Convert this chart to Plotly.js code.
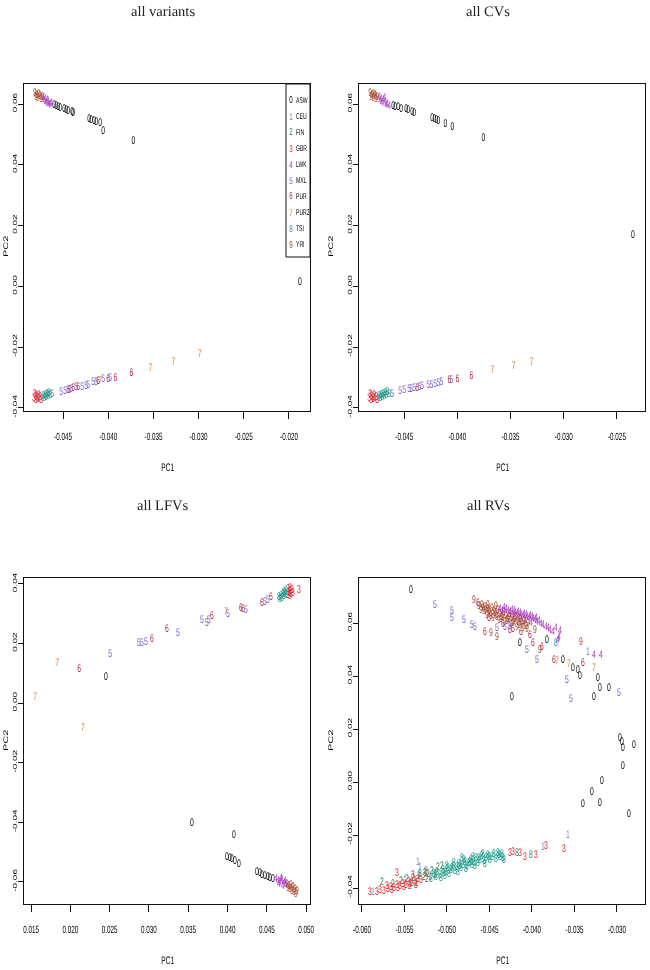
<!DOCTYPE html>
<html><head><meta charset="utf-8">
<script src="https://cdn.plot.ly/plotly-3.0.1.min.js"></script>
<style>html,body{margin:0;padding:0;background:#fff}
#chart .main-svg{will-change:transform;}
#chart text{text-rendering:geometricPrecision;}
</style>
</head><body><div id="chart" style="width:650px;height:970px"></div>
<script>
// ---------------- data ----------------
const POP_CODES = ['ASW','CEU','FIN','GBR','LWK','MXL','PUR','PUR2','TSI','YRI'];
const PANEL_TITLES = ['all variants','all CVs','all LFVs','all RVs'];

// all variants
const VAR_PC1 = [-0.04811,-0.04789,-0.04767,-0.04800,-0.04778,-0.04756,-0.04744,-0.04733,
 -0.04722,-0.04700,-0.04711,-0.04678,-0.04689,-0.04667,-0.04644,-0.04656,-0.04633,
 -0.04600,-0.04578,-0.04556,-0.04533,-0.04489,-0.04467,-0.04444,-0.04400,-0.04389,-0.04211,-0.04189,-0.04156,-0.04133,-0.04089,-0.04056,-0.03722,-0.01878,
 -0.04789,-0.04767,-0.04822,-0.04800,-0.04778,-0.04767,-0.04756,-0.04800,-0.04744,-0.04811,
 -0.04722,-0.04700,-0.04711,-0.04678,-0.04689,-0.04656,-0.04667,-0.04644,
 -0.04622,-0.04522,-0.04478,-0.04444,-0.04433,-0.04411,-0.04389,-0.04356,-0.04333,-0.04289,-0.04244,-0.04222,-0.04167,-0.04133,-0.04111,-0.04089,-0.04056,-0.04000,-0.03978,-0.03922,-0.03744,-0.03533,-0.03278,-0.02989];
const VAR_PC2 = [0.06361,0.06295,0.06328,0.06230,0.06197,0.06262,0.06164,0.06230,
 0.06230,0.06164,0.06098,0.06131,0.06033,0.06066,0.06000,0.05967,0.06033,
 0.05967,0.05934,0.05902,0.05869,0.05836,0.05803,0.05770,0.05738,0.05705,0.05508,0.05475,0.05442,0.05410,0.05377,0.05114,0.04786,0.00129,
 -0.03643,-0.03676,-0.03676,-0.03610,-0.03709,-0.03578,-0.03643,-0.03742,-0.03742,-0.03545,
 -0.03610,-0.03578,-0.03676,-0.03545,-0.03643,-0.03512,-0.03610,-0.03578,
 -0.03545,-0.03479,-0.03446,-0.03414,-0.03414,-0.03381,-0.03348,-0.03315,-0.03315,-0.03315,-0.03282,-0.03250,-0.03151,-0.03151,-0.03118,-0.03118,-0.03053,-0.03053,-0.03020,-0.03020,-0.02856,-0.02692,-0.02495,-0.02233];
const VAR_POP = [9,9,9,9,9,9,9,9, 4,4,4,4,4,4,4,4,4,
 0,0,0,0,0,0,0,0,0,0,0,0,0,0,0,0,0,
 2,1,3,3,3,3,3,3,3,3, 8,8,8,8,8,8,8,8,
 5,5,5,5,6,5,6,5,6,5,5,5,5,5,6,7,5,6,5,6,6,7,7,7];

// all CVs
const CV_PC1 = [-0.04821,-0.04802,-0.04783,-0.04811,-0.04792,-0.04774,-0.04764,-0.04755,
 -0.04736,-0.04717,-0.04726,-0.04698,-0.04708,-0.04679,-0.04660,-0.04670,-0.04642,-0.04689,
 -0.04604,-0.04585,-0.04557,-0.04528,-0.04481,-0.04462,-0.04425,-0.04406,-0.04236,-0.04217,-0.04198,-0.04179,-0.04113,-0.04047,-0.03755,-0.02349,
 -0.04792,-0.04774,-0.04830,-0.04811,-0.04792,-0.04783,-0.04764,-0.04811,-0.04755,-0.04821,
 -0.04736,-0.04717,-0.04726,-0.04698,-0.04708,-0.04679,-0.04689,-0.04660,-0.04670,-0.04642,
 -0.04613,-0.04538,-0.04500,-0.04453,-0.04434,-0.04406,-0.04377,-0.04358,-0.04330,-0.04274,-0.04245,-0.04208,-0.04179,-0.04151,-0.04075,-0.04057,-0.04000,-0.03868,-0.03670,-0.03472,-0.03302];
const CV_PC2 = [0.06361,0.06295,0.06328,0.06230,0.06197,0.06262,0.06164,0.06230,
 0.06230,0.06164,0.06098,0.06131,0.06033,0.06066,0.06000,0.05967,0.05934,0.06197,
 0.05934,0.05902,0.05902,0.05836,0.05836,0.05803,0.05738,0.05705,0.05541,0.05508,0.05475,0.05442,0.05344,0.05246,0.04885,0.01670,
 -0.03643,-0.03676,-0.03676,-0.03610,-0.03709,-0.03578,-0.03643,-0.03742,-0.03742,-0.03545,
 -0.03610,-0.03578,-0.03676,-0.03545,-0.03643,-0.03512,-0.03610,-0.03479,-0.03578,-0.03545,
 -0.03545,-0.03446,-0.03414,-0.03381,-0.03381,-0.03348,-0.03348,-0.03315,-0.03282,-0.03250,-0.03250,-0.03217,-0.03184,-0.03151,-0.03086,-0.03086,-0.03053,-0.02954,-0.02758,-0.02626,-0.02495];
const CV_POP = [9,9,9,9,9,9,9,9, 4,4,4,4,4,4,4,4,4,4,
 0,0,0,0,0,0,0,0,0,0,0,0,0,0,0,0,
 2,1,3,3,3,3,3,3,3,3, 8,8,8,8,8,8,8,8,8,8,
 5,5,5,5,5,5,6,5,5,5,5,5,5,5,6,5,6,6,7,7,7];

// all LFVs
const LFV_PC1 = [0.02454,0.03548,0.04082,0.03993,0.04031,0.04057,0.04095,0.04146,0.04375,0.04413,0.04438,0.04476,0.04515,0.04540,0.04578,
 0.04616,0.04642,0.04667,0.04693,0.04718,0.04655,0.04705,0.04744,0.04680,0.04731,
 0.04756,0.04782,0.04807,0.04833,0.04858,0.04795,0.04820,0.04846,0.04884,0.04871,0.04769,
 0.04795,0.04782,0.04769,0.04795,0.04820,0.04782,0.04807,0.04833,0.04769,0.04795,0.04909,
 0.04655,0.04680,0.04705,0.04731,0.04667,0.04693,0.04718,0.04744,0.04744,0.04718,
 0.04438,0.04476,0.04515,0.04553,0.04171,0.04197,0.04235,0.03980,0.04006,0.03675,0.03739,0.03764,0.03802,0.03370,0.03230,0.02874,0.02912,0.02963,0.03039,0.02505,0.01831,0.02111,0.01551,0.02161];
const LFV_PC2 = [0.00879,-0.04021,-0.04424,-0.05162,-0.05195,-0.05229,-0.05296,-0.05397,-0.05666,-0.05699,-0.05766,-0.05800,-0.05833,-0.05867,-0.05900,
 -0.05900,-0.05967,-0.06001,-0.05934,-0.06034,-0.06068,-0.06135,-0.06101,-0.05867,-0.05967,
 -0.06068,-0.06135,-0.06101,-0.06169,-0.06236,-0.06236,-0.06303,-0.06336,-0.06303,-0.06403,-0.06202,
 0.03765,0.03698,0.03832,0.03866,0.03799,0.03732,0.03664,0.03698,0.03631,0.03597,0.03799,
 0.03564,0.03597,0.03664,0.03698,0.03497,0.03530,0.03597,0.03631,0.03765,0.03732,
 0.03362,0.03396,0.03463,0.03564,0.03195,0.03161,0.03127,0.03060,0.02993,0.02792,0.02691,0.02792,0.02926,0.02356,0.02490,0.02020,0.02020,0.02053,0.02154,0.01651,0.01349,0.01147,0.00208,-0.00833];
const LFV_POP = [0,0,0,0,0,0,0,0,0,0,0,0,0,0,0,
 4,4,4,4,4,4,4,4,4,4,
 9,9,9,9,9,9,9,9,9,9,9,
 2,1,3,3,3,3,3,3,3,3,3,
 8,8,8,8,8,8,8,8,8,8,
 6,5,5,6,6,6,5,7,5,5,5,5,6,5,6,5,5,5,6,5,7,6,7,7];

// all RVs
const RV_PC1 = [
 -0.05424,-0.05141,-0.04941,-0.04941,-0.04800,-0.04706,-0.04671,-0.04682,-0.04635,
 -0.04588,-0.04553,-0.04565,-0.04518,-0.04494,-0.04471,-0.04447,-0.04424,-0.04400,-0.04376,-0.04353,-0.04329,-0.04306,-0.04282,-0.04259,-0.04235,-0.04212,-0.04188,-0.04165,-0.04141,-0.04118,-0.04094,-0.04071,-0.04047,
 -0.04529,-0.04459,-0.04388,-0.04318,-0.04247,-0.04176,-0.04518,-0.04424,-0.04482,-0.04412,-0.03965,-0.03906,-0.03424,
 -0.04576,-0.04541,-0.04506,-0.04482,-0.04435,-0.04412,-0.04365,-0.04341,-0.04294,-0.04271,-0.04224,-0.04200,-0.04153,-0.04129,-0.04106,-0.04059,-0.04624,-0.04600,
 -0.04506,-0.04341,-0.04224,-0.04129,-0.04553,-0.04024,-0.03988,-0.03882,-0.03741,-0.03400,-0.04259,
 -0.04376,-0.04329,-0.04282,-0.04235,-0.04200,-0.04165,-0.04129,-0.04094,-0.04059,-0.04024,-0.03988,-0.03953,-0.03941,-0.03894,-0.03835,-0.03788,-0.03682,-0.03671,-0.04224,-0.04153,-0.04082,-0.04012,-0.03271,-0.03188,-0.03694,
 -0.04353,-0.04306,-0.04259,-0.04212,-0.04176,-0.04141,-0.04106,-0.04071,-0.04035,-0.04000,-0.03965,-0.03918,-0.03871,-0.03812,-0.03753,-0.03718,
 -0.04412,-0.04318,-0.04259,-0.04059,-0.03941,-0.03588,-0.03541,-0.02976,
 -0.04141,-0.03824,-0.03635,-0.03518,-0.03459,-0.03435,-0.03224,-0.03200,-0.03094,-0.03271,-0.04235,
 -0.02965,-0.02941,-0.02929,-0.02800,-0.02929,-0.03176,-0.03294,-0.03400,-0.03200,-0.02859,
 -0.03706,-0.03565,-0.03271,-0.03341,-0.03718,
 -0.05765,-0.05635,-0.05541,-0.05471,-0.05400,-0.05329,-0.05271,-0.05224,-0.05176,-0.05106,-0.05059,-0.05141,-0.05235,-0.05365,-0.05435,
 -0.05871,-0.05341,-0.05318,-0.05494,-0.05200,-0.03871,-0.03576,
 -0.05188,-0.05153,-0.05118,-0.05082,-0.05047,-0.05012,-0.04988,-0.04953,-0.04929,-0.04906,-0.04882,-0.04859,-0.04835,-0.04812,-0.04788,-0.04765,-0.04741,-0.04718,-0.04706,-0.04682,-0.04659,-0.04635,-0.04612,-0.04588,-0.04565,-0.04541,-0.04518,-0.04494,-0.04471,-0.04447,-0.04424,-0.04400,-0.04376,-0.04353,-0.04329,
 -0.04976,-0.04871,-0.04776,-0.04671,-0.04553,-0.05024,-0.05071,-0.04012,-0.04176,-0.04824,-0.05318,-0.05247,
 -0.05129,-0.05035,-0.04941,-0.04847,-0.04729,-0.04624,-0.04506,-0.04388,-0.04341,-0.05000,-0.04918,-0.04800,-0.04694,-0.04576,
 -0.05906,-0.05824,-0.05741,-0.05694,-0.05659,-0.05624,-0.05588,-0.05553,-0.05518,-0.05482,-0.05447,-0.05412,-0.05376,-0.05341,-0.05306,-0.05588,-0.05400,-0.05259,
 -0.05788,-0.05706,-0.05647,-0.05576,-0.05506,-0.05435,-0.05365,
 -0.04259,-0.04224,-0.04141,-0.04082,-0.03953,-0.03835,-0.03624];
const RV_PC2 = [
 0.07245,0.06679,0.06453,0.06189,0.06113,0.05925,0.05849,0.06868,0.06755,
 0.06679,0.06604,0.06453,0.06528,0.06377,0.06566,0.06453,0.06302,0.06491,0.06340,0.06226,0.06415,0.06264,0.06151,0.06340,0.06189,0.06075,0.06226,0.06038,0.06151,0.05962,0.06075,0.05887,0.06000,
 0.06302,0.06189,0.06113,0.06038,0.05962,0.05849,0.06679,0.06642,0.05623,0.05472,0.05736,0.04981,0.05283,
 0.06566,0.06491,0.06453,0.06264,0.06377,0.06226,0.06151,0.06302,0.06075,0.06226,0.06000,0.06151,0.05925,0.06038,0.05811,0.05774,0.06642,0.06491,
 0.06189,0.05962,0.05774,0.05660,0.05660,0.05547,0.05245,0.05094,0.04604,0.04491,0.05736,
 0.06528,0.06566,0.06453,0.06491,0.06377,0.06415,0.06302,0.06340,0.06226,0.06264,0.06151,0.06189,0.06038,0.05962,0.05849,0.05736,0.05472,0.05698,0.06264,0.06151,0.06075,0.06000,0.04792,0.04792,0.05358,
 0.06453,0.06528,0.06415,0.06453,0.06340,0.06377,0.06264,0.06302,0.06189,0.06226,0.06113,0.06075,0.05925,0.05811,0.05660,0.05811,
 0.05811,0.05849,0.05887,0.04981,0.04604,0.03849,0.03132,0.03358,
 0.05245,0.05358,0.04604,0.04302,0.04226,0.04000,0.03925,0.03547,0.03547,0.03208,0.03208,
 0.01660,0.01509,0.01283,0.01396,0.00604,0.00038,-0.00377,-0.00830,-0.00792,-0.01208,
 0.04566,0.04453,0.04302,0.04906,0.05245,
 -0.03774,-0.03849,-0.03736,-0.03660,-0.03623,-0.03547,-0.03585,-0.03472,-0.03358,-0.03208,-0.03170,-0.03509,-0.03660,-0.03811,-0.03925,
 -0.04151,-0.03019,-0.03208,-0.03698,-0.03585,-0.02453,-0.02000,
 -0.03660,-0.03472,-0.03396,-0.03509,-0.03321,-0.03396,-0.03245,-0.03321,-0.03170,-0.03358,-0.03208,-0.03094,-0.03245,-0.03132,-0.03019,-0.03170,-0.03057,-0.02943,-0.03132,-0.03019,-0.02868,-0.03057,-0.02943,-0.02792,-0.02981,-0.02868,-0.02755,-0.02943,-0.02830,-0.02717,-0.02906,-0.02679,-0.02830,-0.02717,-0.02943,
 -0.03472,-0.03396,-0.03283,-0.03170,-0.03094,-0.03547,-0.03623,-0.02755,-0.02679,-0.02868,-0.03472,-0.03358,
 -0.03585,-0.03434,-0.03245,-0.03170,-0.03019,-0.02868,-0.02830,-0.02755,-0.02868,-0.03170,-0.03057,-0.02943,-0.02830,-0.02717,
 -0.04151,-0.04151,-0.04113,-0.04038,-0.03962,-0.04000,-0.03887,-0.03925,-0.03849,-0.03887,-0.03774,-0.03811,-0.03736,-0.03660,-0.03698,-0.03434,-0.03509,-0.03434,
 -0.04075,-0.03925,-0.04075,-0.04000,-0.03962,-0.03849,-0.03887,
 -0.02679,-0.02642,-0.02679,-0.02830,-0.02755,-0.02415,-0.02528];
const RV_POP = [
 0,5,5,5,5,5,5,9,6,
 9,9,9,9,9,9,9,9,9,9,9,9,9,9,9,9,9,9,9,9,9,9,9,9,
 9,9,9,9,9,9,9,9,9,9,9,9,9,
 9,9,9,9,9,9,9,9,9,9,9,9,9,9,9,9,9,9,
 6,6,6,6,6,6,6,6,6,6,6,
 4,4,4,4,4,4,4,4,4,4,4,4,4,4,4,4,4,4,4,4,4,4,4,4,4,
 4,4,4,4,4,4,4,4,4,4,4,4,4,4,4,4,
 5,5,5,5,5,5,5,5,
 0,0,0,0,0,0,0,0,0,0,0,
 0,0,0,0,0,0,0,0,0,0,
 7,7,7,1,8,
 2,2,2,2,2,2,2,2,2,2,2,2,2,2,2,
 1,1,1,1,1,1,1,
 8,8,8,8,8,8,8,8,8,8,8,8,8,8,8,8,8,8,8,8,8,8,8,8,8,8,8,8,8,8,8,8,8,8,8,
 8,8,8,8,8,8,8,8,8,8,8,8,
 8,8,8,8,8,8,8,8,8,8,8,8,8,8,
 3,3,3,3,3,3,3,3,3,3,3,3,3,3,3,3,3,3,
 3,3,3,3,3,3,3,
 3,3,3,3,3,3,3];

// axis ticks
const XT_VAR = [-0.045,-0.040,-0.035,-0.030,-0.025,-0.020];
const XT_CV  = [-0.045,-0.040,-0.035,-0.030,-0.025];
const XT_LFV = [0.015,0.020,0.025,0.030,0.035,0.040,0.045,0.050];
const XT_RV  = [-0.060,-0.055,-0.050,-0.045,-0.040,-0.035,-0.030];
const YT_TOP = [-0.04,-0.02,0.00,0.02,0.04,0.06];
const YT_LFV = [-0.06,-0.04,-0.02,0.00,0.02,0.04];
const YT_RV  = [-0.04,-0.02,0.00,0.02,0.04,0.06];

// ---------------- styles ----------------
const POP_COLORS = ['#000000','#6f80bd','#2f7a48','#e5232d','#a93cc0','#7d62d0','#b0304c','#e27a36','#1f9a8c','#a3472c'];
const SANS = 'Liberation Sans, DejaVu Sans, sans-serif';
const SERIF = 'Liberation Serif, DejaVu Serif, serif';
const W = 650, H = 970;
const px = v => v / W, py = v => 1 - v / H;

function fmt(v, d){ return v.toFixed(d); }

function trace(xs, ys, pops, n){
  return {
    type:'scatter', mode:'text', x:xs, y:ys,
    text: pops.map(String),
    textposition:'middle center',
    textfont:{family:SANS, size:11, color:pops.map(p=>POP_COLORS[p])},
    xaxis:'x'+(n===1?'':n), yaxis:'y'+(n===1?'':n),
    hoverinfo:'skip', showlegend:false, cliponaxis:true
  };
}

function xax(dom, range, ticks, anchor){
  return {domain:dom, range:range, anchor:anchor, showgrid:false, zeroline:false,
    showline:true, mirror:true, linecolor:'#111', linewidth:1.3,
    ticks:'outside', ticklen:7, tickwidth:1, tickcolor:'#111',
    tickmode:'array', tickvals:ticks, ticktext:ticks.map(v=>fmt(v,3)),
    tickfont:{family:SANS, size:10.5, color:'#000'}, ticklabelstandoff:8};
}
function yax(dom, range, ticks, anchor){
  return {domain:dom, range:range, anchor:anchor, showgrid:false, zeroline:false,
    showline:true, mirror:true, linecolor:'#111', linewidth:1.3,
    ticks:'outside', ticklen:5, tickwidth:1, tickcolor:'#111',
    tickmode:'array', tickvals:ticks, ticktext:ticks.map(v=>fmt(v,2)),
    tickangle:-90, tickfont:{family:SANS, size:10, color:'#000'}};
}

const XL = [px(24), px(310)], XR = [px(359), px(645)];
const YT = [py(411), py(84)], YB = [py(904), py(578)];

const data = [
  trace(VAR_PC1, VAR_PC2, VAR_POP, 1),
  trace(CV_PC1, CV_PC2, CV_POP, 2),
  trace(LFV_PC1, LFV_PC2, LFV_POP, 3),
  trace(RV_PC1, RV_PC2, RV_POP, 4)
];

const ann = [];
const titlePos = [[163,11],[488,11],[163,505],[488,505]];
PANEL_TITLES.forEach((t,i)=>ann.push({xref:'paper',yref:'paper',x:px(titlePos[i][0]),y:py(titlePos[i][1]),
  text:t, showarrow:false, xanchor:'center', yanchor:'middle', font:{family:SERIF,size:14.5,color:'#222'}}));
[[167,467],[502,467],[167,960],[502,960]].forEach(p=>ann.push({xref:'paper',yref:'paper',x:px(p[0]),y:py(p[1]),
  text:'PC1', showarrow:false, xanchor:'center', yanchor:'middle', font:{family:SANS,size:11,color:'#000'}}));
[[5,247],[330,247],[5,741],[330,741]].forEach(p=>ann.push({xref:'paper',yref:'paper',x:px(p[0]),y:py(p[1]),
  text:'PC2', textangle:-90, showarrow:false, xanchor:'center', yanchor:'middle', font:{family:SANS,size:11,color:'#000'}}));
// legend
POP_CODES.forEach((c,i)=>{
  const yy = 100 + i*16;
  ann.push({xref:'paper',yref:'paper',x:px(291),y:py(yy),text:String(i),showarrow:false,xanchor:'center',yanchor:'middle',
    font:{family:SANS,size:10,color:POP_COLORS[i]}});
  ann.push({xref:'paper',yref:'paper',x:px(293.5),y:py(yy),text:c,showarrow:false,xanchor:'left',yanchor:'middle',
    font:{family:SANS,size:8.5,color:'#000'}});
});

const layout = {
  width:W, height:H, margin:{l:0,r:0,t:0,b:0}, paper_bgcolor:'#fff', plot_bgcolor:'#fff',
  showlegend:false,
  xaxis: xax(XL,[-0.04933,-0.01767],XT_VAR,'y'),  yaxis: yax(YT,[-0.0410,0.0666],YT_TOP,'x'),
  xaxis2:xax(XR,[-0.04925,-0.02236],XT_CV,'y2'),  yaxis2:yax(YT,[-0.0410,0.0666],YT_TOP,'x2'),
  xaxis3:xax(XL,[0.0141,0.0505],XT_LFV,'y3'),     yaxis3:yax(YB,[-0.0674,0.0420],YT_LFV,'x3'),
  xaxis4:xax(XR,[-0.06035,-0.0267],XT_RV,'y4'),   yaxis4:yax(YB,[-0.0460,0.0770],YT_RV,'x4'),
  annotations:ann,
  shapes:[{type:'rect',xref:'paper',yref:'paper',x0:px(286),x1:px(310),y0:py(257),y1:py(84),
    line:{color:'#111',width:1},fillcolor:'rgba(0,0,0,0)'}]
};

// narrow the sans text (the reference figure is horizontally squeezed);
// a tiny skew keeps the glyphs on grayscale antialiasing
function squeeze(el, sx, sy, leftAnchor, shiftX){
  try{
    const b = el.getBBox();
    const cx = leftAnchor ? b.x : b.x + b.width/2;
    const cy = b.y + b.height/2;
    const k = 0.0003;
    const T = el.getAttribute('transform') || '';
    const pre = shiftX ? `translate(${shiftX},0) ` : '';
    el.setAttribute('transform', (pre + T + ` matrix(${sx},${k},0,${sy},${(1-sx)*cx},${(1-sy)*cy - k*cx})`).trim());
  }catch(e){}
}

Plotly.newPlot('chart', data, layout, {staticPlot:true, displayModeBar:false}).then(()=>{
  const gd = document.getElementById('chart');
  gd.querySelectorAll('.textpoint text').forEach(t=>squeeze(t,0.62,1));
  gd.querySelectorAll('.xaxislayer-above text').forEach(t=>squeeze(t,0.6,1));
  gd.querySelectorAll('.yaxislayer-above text').forEach(t=>squeeze(t,1,0.6,false,4));
  gd.querySelectorAll('.annotation').forEach(a=>{
    const i = +a.getAttribute('data-index');
    const t = a.querySelector('text');
    if(!t) return;
    if(i>=4 && i<8) squeeze(t,0.6,1);
    else if(i>=8 && i<12) squeeze(t,1,0.6);
    else if(i>=12){ if((i-12)%2===0) squeeze(t,0.62,1); else squeeze(t,0.6,1,true); }
  });
});
</script>
</body></html>
